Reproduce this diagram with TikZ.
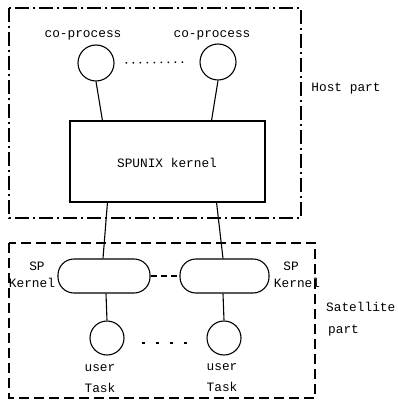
\documentclass[tikz,border=0pt]{standalone}
\usepackage{fontspec}
\setmonofont{Liberation Mono}
\begin{document}
\begin{tikzpicture}[x=1pt,y=-1pt,
  every node/.style={font=\ttfamily\fontsize{12.8}{14}\selectfont, inner sep=0pt},
  proc/.style={draw, circle, line width=1.1pt, minimum size=36pt},
  utask/.style={draw, circle, line width=1.1pt, minimum size=34pt},
  kernbox/.style={draw, rectangle, line width=1.1pt, minimum width=195pt, minimum height=81pt},
  pill/.style={draw, rectangle, rounded corners=16pt, line width=1.1pt, minimum height=34pt},
  link/.style={line width=1.1pt},
  hostframe/.style={line width=1.1pt, dash pattern=on 14pt off 4pt on 2pt off 4pt},
  satframe/.style={line width=1.1pt, dash pattern=on 10pt off 5pt},
  lbl/.style={anchor=center}]
\useasboundingbox (0,0) rectangle (397,401);

% host part frame
\draw[hostframe] (9,8) rectangle (301,218);
% satellite part frame
\draw[satframe] (9,243) rectangle (315,398);

% host side
\node[proc] (c1) at (96,63) {};
\node[proc] (c2) at (218,62) {};
\node[lbl] (l1) at (83,35) {co-process};
\node[lbl] (l2) at (212,35) {co-process};
\node[kernbox] (k) at (167.5,161.5) {};
\node[lbl] (kt) at (167,163) {SPUNIX kernel};
\node[lbl] (hp) at (346,89) {Host part};

\draw[dash pattern=on 1.6pt off 5.4pt, line width=1.5pt] ([xshift=11pt]c1.east) -- ([xshift=-15pt]c2.west);
\draw[link] (c1.south) -- ([xshift=33pt]k.north west);
\draw[link] (c2.south) -- ([xshift=-54pt]k.north east);

% satellite side
\node[pill, minimum width=92pt] (p1) at (104,276) {};
\node[pill, minimum width=89pt] (p2) at (224.5,276) {};
\node[lbl] (s1) at (37,266) {SP};
\node[lbl] (s1b) at (32,283) {Kernel};
\node[lbl] (s2) at (291,266) {SP};
\node[lbl] (s2b) at (297,283) {Kernel};
\draw[link, dash pattern=on 6pt off 4pt] (p1.east) -- (p2.west);

\draw[link] ([xshift=38pt]k.south west) -- ([xshift=-1pt]p1.north);
\draw[link] ([xshift=-49pt]k.south east) -- ([xshift=-1.5pt]p2.north);

\node[utask] (u1) at (107,338) {};
\node[utask] (u2) at (224,338) {};
\draw[link] ([xshift=2pt]p1.south) -- (u1.north);
\draw[link] ([xshift=-1.5pt]p2.south) -- (u2.north);
\draw[line width=1.2pt, dash pattern=on 3pt off 11pt] (142,343) -- (188,343);

\node[lbl] (ut1) at (100,368) {user};
\node[lbl] (ut2) at (222,367) {user};
\node[lbl] (tt1) at (100,388) {Task};
\node[lbl] (tt2) at (222,387) {Task};

\node[anchor=west] (sp) at (326,307) {Satellite};
\node[anchor=west] (sp2) at (328,331) {part};
\end{tikzpicture}
\end{document}
